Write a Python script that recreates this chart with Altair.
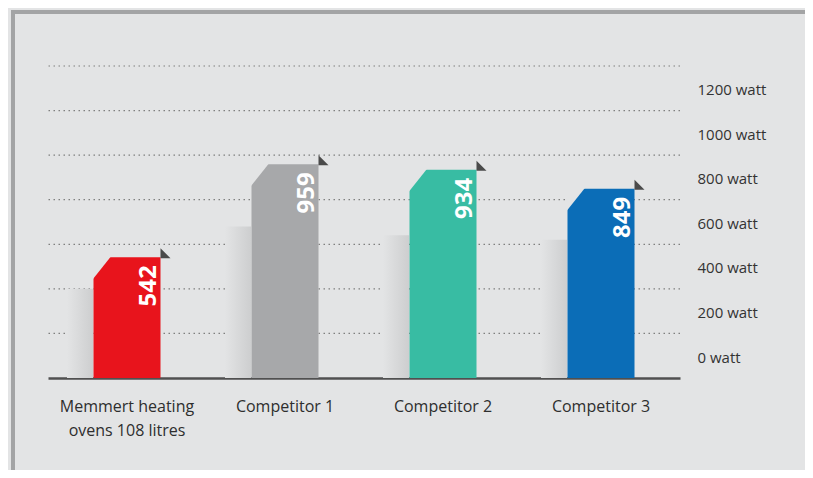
import altair as alt
import pandas as pd

# ---- data ----
categories = ["Memmert heating|ovens 108 litres", "Competitor 1", "Competitor 2", "Competitor 3"]
values = [542, 959, 934, 849]
bar_colors = ["#e8141c", "#a7a8aa", "#38bca3", "#0b6db7"]
shadow_values = [400, 680, 640, 620]
grid_values = [200, 400, 600, 800, 1000, 1200, 1400]
tick_values = [0, 200, 400, 600, 800, 1000, 1200]

BG = "#e3e4e5"
FONT = "Open Sans"

df = pd.DataFrame({"cat": categories, "value": values, "shadow": shadow_values})
grid_df = pd.DataFrame({"g": grid_values})
frame_df = pd.DataFrame({"a": [0]})

yscale = alt.Scale(domain=[0, 1400], nice=False, zero=True)
xscale = alt.Scale(paddingInner=0, paddingOuter=0)

xaxis = alt.Axis(orient="bottom", title=None, labelAngle=0, ticks=False,
                 labelExpr="split(datum.label, '|')",
                 labelFont=FONT, labelFontSize=16, labelColor="#2e2e2e",
                 labelPadding=20, labelLineHeight=24, labelAlign="center",
                 domainColor="#505050", domainWidth=2.5, grid=False)
yaxis = alt.Axis(orient="right", title=None, values=tick_values, ticks=False,
                 domain=False, grid=False, labelExpr="datum.value + ' watt'",
                 labelFont=FONT, labelFontSize=15, labelColor="#333333",
                 labelPadding=17, labelAlign="left", labelOffset=-21)


def X():
    return alt.X("cat:N", sort=categories, scale=xscale, axis=xaxis, title=None)


def Y(field):
    return alt.Y(field, scale=yscale, axis=yaxis, title=None)


frame = alt.Chart(frame_df).mark_rect(fillOpacity=0, stroke="#a3a4a5", strokeWidth=4).encode(
    x=alt.value(-35), x2=alt.value(770), y=alt.value(-54), y2=alt.value(440)
)

grid = alt.Chart(grid_df).mark_rule(color="#7f7f7f", strokeWidth=1.2, strokeDash=[1.5, 3.5]).encode(
    y=Y("g:Q")
)

shadow = alt.Chart(df).mark_bar(
    size=26, xOffset=-47,
    color=alt.Gradient(gradient="linear", x1=0, x2=1, y1=0, y2=0,
                       stops=[alt.GradientStop(color=BG, offset=0),
                              alt.GradientStop(color="#cdcecf", offset=1)]),
).encode(x=X(), y=Y("shadow:Q"))

bars = alt.Chart(df).mark_bar(size=67).encode(
    x=X(),
    y=Y("value:Q"),
    color=alt.Color("cat:N", scale=alt.Scale(domain=categories, range=bar_colors), legend=None),
)

chamfer = alt.Chart(df).mark_point(
    shape="M-1.5,-1.5L18,-1.5L-1.5,23Z", size=4, filled=True, color=BG, opacity=1,
    strokeWidth=0, xOffset=-33.5,
).encode(x=X(), y=Y("value:Q"))

flag = alt.Chart(df).mark_point(
    shape="M0,-9L10,1L0,1Z", size=4, filled=True, color="#4a4a4a", opacity=1,
    strokeWidth=0, xOffset=33.5,
).encode(x=X(), y=Y("value:Q"))

labels = alt.Chart(df).mark_text(
    angle=270, align="right", baseline="alphabetic", xOffset=28.5, yOffset=8,
    font=FONT, fontWeight="bold", fontSize=24, color="white",
).encode(x=X(), y=Y("value:Q"), text="value:Q")

chart = alt.layer(frame, grid, shadow, bars, chamfer, flag, labels).properties(
    width=632, height=312,
    padding={"left": 40, "top": 58, "right": 125, "bottom": 92},
    autosize=alt.AutoSizeParams(type="none"),
    background=BG,
).configure_view(stroke=None)

chart.save("out.html", embed_options={"renderer": "svg", "actions": False})
